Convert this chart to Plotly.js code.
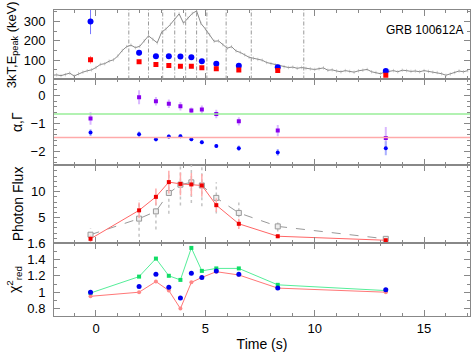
<!DOCTYPE html>
<html>
<head>
<meta charset="utf-8">
<script src="https://cdn.plot.ly/plotly-3.0.1.min.js"></script>
<style>html,body{margin:0;padding:0;background:#fff;}#plot{width:471px;height:352px;}</style>
</head>
<body>
<div id="plot"></div>
<script>
// ---- Light curve (counts, arbitrary) ----
const lcTime = [-2.0,-1.8,-1.6,-1.4,-1.2,-1.0,-0.8,-0.6,-0.4,-0.2,0.0,0.2,0.4,0.6,0.8,1.0,1.2,1.4,1.6,1.8,2.0,2.2,2.4,2.6,2.8,3.0,3.2,3.4,3.6,3.8,4.0,4.2,4.4,4.6,4.8,5.0,5.2,5.4,5.6,5.8,6.0,6.2,6.4,6.6,6.8,7.0,7.2,7.4,7.6,7.8,8.0,8.2,8.4,8.6,8.8,9.0,9.2,9.4,9.6,9.8,10.0,10.2,10.4,10.6,10.8,11.0,11.2,11.4,11.6,11.8,12.0,12.2,12.4,12.6,12.8,13.0,13.2,13.4,13.6,13.8,14.0,14.2,14.4,14.6,14.8,15.0,15.2,15.4,15.6,15.8,16.0,16.2,16.4,16.6,16.8,17.0];
const lcRate = [22,24,20,25,33,18,30,38,45,50,62,78,82,95,102,122,150,170,178,165,172,200,226,208,190,245,262,285,310,340,292,318,342,355,290,262,232,198,200,180,162,170,148,140,128,115,110,104,100,88,82,76,70,66,62,64,58,62,57,55,52,56,60,48,50,44,40,46,42,38,45,48,52,40,36,30,38,44,46,40,48,46,42,44,40,46,42,38,36,30,22,28,36,44,40,46];
const intervalEdges = [1.5, 2.4, 3.05, 3.6, 4.1, 4.6, 5.07, 5.95, 7.1, 9.5];

// ---- Time-resolved spectral results ----
const tSpec    = [-0.25, 1.97, 2.74, 3.33, 3.86, 4.36, 4.84, 5.5, 6.53, 8.31, 13.25];
const kT3      = [300, 138, 121, 121, 119, 115, 95, 81, 71, 63, 44];
const kT3Err   = [65, 14, 8, 8, 8, 8, 8, 7, 7, 7, 8];
const ePeak    = [102, 92, 78, 73, 68, 68, 61, 56, 49, 46, 22];
const ePeakErr = [20, 8, 5, 5, 5, 5, 5, 5, 5, 5, 6];

const alpha    = [-0.82, -0.06, -0.2, -0.29, -0.38, -0.53, -0.5, -0.66, -0.92, -1.25, -1.52];
const alphaErr = [0.22, 0.25, 0.15, 0.15, 0.15, 0.1, 0.15, 0.15, 0.15, 0.2, 0.4];
const gamma    = [-1.32, -1.38, -1.56, -1.46, -1.45, -1.56, -1.67, -1.8, -1.88, -2.03, -1.88];
const gammaErr = [0.12, 0.1, 0.08, 0.07, 0.07, 0.07, 0.07, 0.07, 0.1, 0.12, 0.25];
const alphaRef = -0.66;
const gammaRef = -1.5;

const fluxRed     = [0.9, 6.4, 9.0, 11.85, 11.5, 11.4, 11.2, 7.4, 3.8, 1.4, 0.63];
const fluxRedErr  = [0.6, 1.5, 1.6, 2.2, 2.2, 2.2, 2.2, 1.3, 1.0, 0.4, 0.3];
const fluxGray    = [1.7, 4.8, 6.2, 9.75, 11.35, 11.8, 11.2, 8.8, 5.9, 3.3, 0.9];
const fluxGrayErr = [1.2, 3.5, 3.5, 4, 4, 4, 4, 3, 2, 1, 0.5];

const chiGreen  = [0.99, 1.19, 1.41, 1.2, 1.15, 1.54, 1.26, 1.29, 1.29, 1.09, 1.02];
const chiBlue   = [1.0, 1.07, 1.22, 1.06, 0.93, 1.23, 1.18, 1.26, 1.22, 1.05, 1.03];
const chiCircle = [0.94, 0.94, 1.16, 0.99, 0.86, 1.2, 1.14, 1.22, 1.2, 1.06, 1.02];
const chiRed    = [0.95, 1.0, 1.13, 1.02, 0.8, 1.12, 1.18, 1.25, 1.21, 1.05, 1.0];

const FONT = "Liberation Sans, Arial, Helvetica, sans-serif";
const AX = '#888';

const traces = [
  // Panel 1
  {x: lcTime, y: lcRate, xaxis:'x', yaxis:'y', mode:'lines', line:{color:'#8a8a8a', width:1},
   error_y:{type:'constant', value:9, color:'#d0d0d0', thickness:1, width:0}, hoverinfo:'skip'},
  {x: tSpec, y: kT3, xaxis:'x', yaxis:'y', mode:'markers', marker:{color:'#0000ff', size:6, symbol:'circle'},
   error_y:{type:'data', array:kT3Err, color:'#7777ff', thickness:1, width:0}},
  {x: tSpec, y: ePeak, xaxis:'x', yaxis:'y', mode:'markers', marker:{color:'#ff0000', size:5, symbol:'square'},
   error_y:{type:'data', array:ePeakErr, color:'#ff9999', thickness:1, width:0}},
  // Panel 2
  {x: tSpec, y: alpha, xaxis:'x2', yaxis:'y2', mode:'markers', marker:{color:'#8800ee', size:4, symbol:'square'},
   error_y:{type:'data', array:alphaErr, color:'#d9b8ff', thickness:2, width:0}},
  {x: tSpec, y: gamma, xaxis:'x2', yaxis:'y2', mode:'markers', marker:{color:'#0000ff', size:4, symbol:'circle'},
   error_y:{type:'data', array:gammaErr, color:'#aab0ff', thickness:2, width:0}},
  // Panel 3
  {x: tSpec, y: fluxGray, xaxis:'x3', yaxis:'y3', mode:'lines+markers',
   line:{color:'#999', width:1, dash:'dash'}, marker:{color:'#eeeeee', size:5, symbol:'square', line:{color:'#999', width:1}}},
  {x: tSpec, y: fluxRed, xaxis:'x3', yaxis:'y3', mode:'lines+markers',
   line:{color:'#ff6666', width:1}, marker:{color:'#ee0000', size:4, symbol:'square'},
   error_y:{type:'data', array:fluxRedErr, color:'#ffaaaa', thickness:1.5, width:0}},
  // Panel 4
  {x: tSpec, y: chiGreen, xaxis:'x4', yaxis:'y4', mode:'lines+markers',
   line:{color:'#55ee99', width:1}, marker:{color:'#11dd66', size:4, symbol:'square'}},
  {x: tSpec, y: chiCircle, xaxis:'x4', yaxis:'y4', mode:'markers',
   marker:{color:'rgba(0,0,0,0)', size:11, symbol:'circle-open', line:{color:'#88bbff', width:1}}},
  {x: tSpec, y: chiRed, xaxis:'x4', yaxis:'y4', mode:'lines+markers',
   line:{color:'#ff7777', width:1}, marker:{color:'#ff8888', size:4, symbol:'circle'}},
  {x: tSpec, y: chiBlue, xaxis:'x4', yaxis:'y4', mode:'markers', marker:{color:'#0000ee', size:5, symbol:'circle'}}
];

function xax(anchor, showLabels) {
  const a = {anchor: anchor, range:[-1.92, 17.1], showline:true, linecolor:AX, linewidth:1, mirror:'ticks',
    ticks:'inside', ticklen:6, tickcolor:AX, tickwidth:1, dtick:5, tick0:0, zeroline:false, showgrid:false,
    minor:{ticks:'inside', ticklen:3, dtick:1, tickcolor:AX, tickwidth:1},
    showticklabels: showLabels, tickfont:{size:13, color:'#000', family:FONT}};
  if (anchor !== 'y4') a.matches = 'x4';
  if (showLabels) a.title = {text:'Time (s)', font:{size:14, color:'#000', family:FONT}, standoff:4};
  return a;
}
function yax(domain, range, dtick, minorDtick, title, tickvals, tsize) {
  const a = {domain: domain, range: range, showline:true, linecolor:AX, linewidth:1, mirror:'ticks',
    ticks:'inside', ticklen:6, tickcolor:AX, tickwidth:1, dtick:dtick, zeroline:false, showgrid:false,
    minor:{ticks:'inside', ticklen:3, dtick:minorDtick, tickcolor:AX, tickwidth:1},
    tickfont:{size:13, color:'#000', family:FONT}, ticklabelstandoff:5,
    title:{text:title, font:{size:tsize || 14, color:'#000', family:FONT}, standoff:4}};
  if (tickvals) { a.tickmode = 'array'; a.tickvals = tickvals; }
  return a;
}

const shapes = intervalEdges.map(t => ({type:'line', xref:'x', yref:'y domain', x0:t, x1:t, y0:0, y1:1,
  line:{color:'#999', width:1, dash:'4px,2px,1px,2px'}}));
shapes.push({type:'line', xref:'x2 domain', yref:'y2', x0:0, x1:1, y0:alphaRef, y1:alphaRef, line:{color:'#99ee99', width:1.5}});
shapes.push({type:'line', xref:'x2 domain', yref:'y2', x0:0, x1:1, y0:gammaRef, y1:gammaRef, line:{color:'#ffaaaa', width:1.5}});
// dashed error bars for the gray flux series
tSpec.forEach((t, i) => shapes.push({type:'line', xref:'x3', yref:'y3', x0:t, x1:t,
  y0:fluxGray[i] - fluxGrayErr[i], y1:fluxGray[i] + fluxGrayErr[i], layer:'below',
  line:{color:'#c4c4c4', width:1.5, dash:'3px,3px'}}));

const layout = {
  width:471, height:352, margin:{l:54, r:1, t:10, b:36},
  paper_bgcolor:'#fff', plot_bgcolor:'#fff', showlegend:false,
  font:{family:FONT, color:'#000'},
  xaxis: xax('y', false), xaxis2: xax('y2', false), xaxis3: xax('y3', false), xaxis4: xax('y4', true),
  yaxis: yax([0.7729, 1], [0, 360], 100, 50, '3kT,E<sub>peak</sub> (keV)', null, 13),
  yaxis2: yax([0.4935, 0.7729], [-2.48, 0.575], 1, 0.2, 'α,Γ'),
  yaxis3: yax([0.2386, 0.4935], [0.1, 15.15], 5, 1, 'Photon Flux', [5, 10]),
  yaxis4: yax([0, 0.2386], [0.71, 1.6], 0.2, 0.1, 'χ<sup>2</sup><sub>red</sub>', [0.8, 1, 1.2, 1.4, 1.6]),
  shapes: shapes,
  annotations: [{text:'GRB 100612A', xref:'x', yref:'y', x:15.0, y:255, showarrow:false,
    font:{size:12, color:'#000', family:FONT}}]
};
Plotly.newPlot('plot', traces, layout, {displayModeBar:false, staticPlot:true});
</script>
</body>
</html>
